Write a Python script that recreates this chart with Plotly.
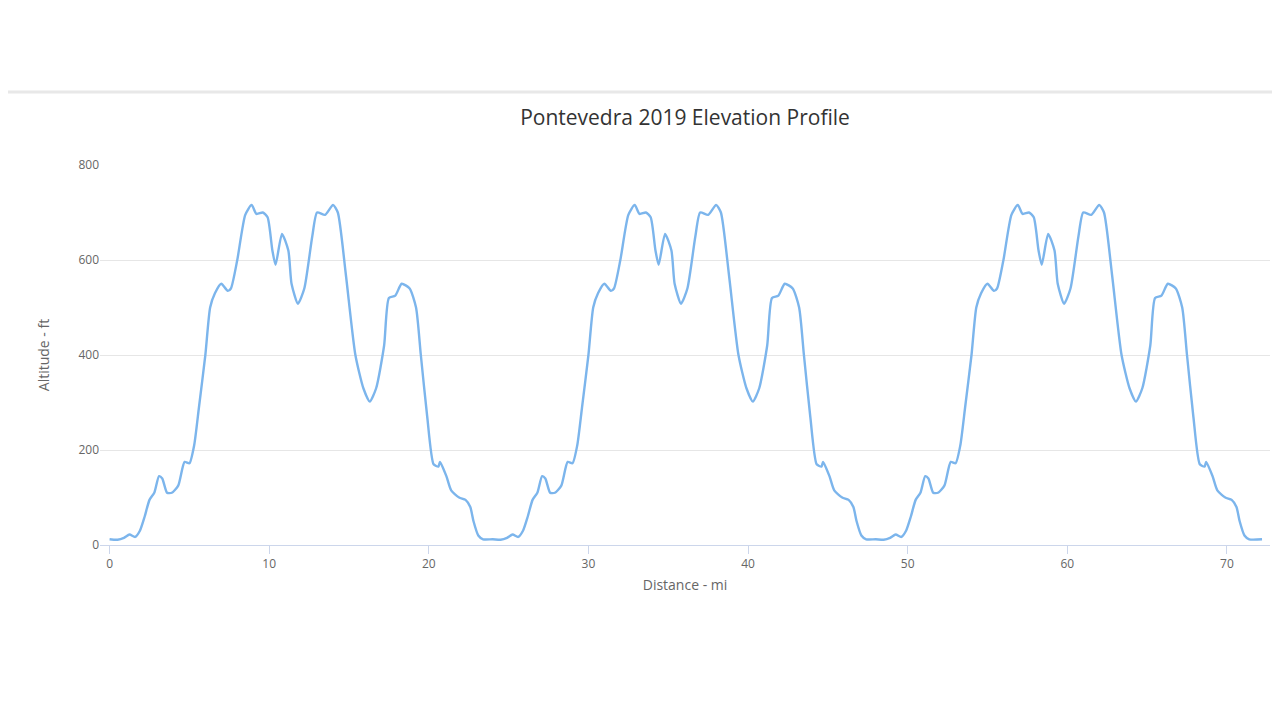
import plotly.graph_objects as go

# one lap of the course (distance mi, altitude ft)
lap_x = [0, 0.5, 0.9, 1.25, 1.6, 1.9, 2.2, 2.5, 2.8, 3.1, 3.3, 3.6, 3.9, 4.3, 4.7, 5.0, 5.3, 5.6, 6.0, 6.3, 6.6,
         7.0, 7.4, 7.6, 8.0, 8.5, 8.9, 9.2, 9.6, 9.9, 10.2, 10.4, 10.8, 11.2, 11.4, 11.8, 12.2, 12.7, 13.0,
         13.5, 14.0, 14.3, 14.8, 15.4, 15.9, 16.3, 16.7, 17.2, 17.5, 17.9, 18.3, 18.8, 19.2, 19.5, 19.9,
         20.3, 20.6, 20.7, 21.1, 21.4, 21.9, 22.3, 22.6, 22.8, 23.1, 23.4]
lap_y = [12, 11, 15, 22, 17, 30, 60, 95, 110, 145, 140, 110, 110, 125, 175, 172, 210, 290, 400, 500, 530,
         550, 535, 540, 600, 695, 716, 697, 700, 690, 620, 590, 655, 620, 550, 508, 540, 650, 700,
         695, 716, 700, 570, 400, 330, 302, 330, 420, 520, 525, 550, 540, 500, 400, 270,
         170, 165, 175, 145, 115, 100, 95, 80, 50, 20, 12]
lap_length = 24.0
laps = 3
end_x, end_y = 72.2, 12

dist = []
alt = []
for k in range(laps):
    dist += [x + k * lap_length for x in lap_x]
    alt += lap_y
dist.append(end_x)
alt.append(end_y)

fig = go.Figure(go.Scatter(x=dist, y=alt, mode="lines",
                           line=dict(color="#7cb5ec", width=2.4, shape="spline", smoothing=0.6),
                           hoverinfo="x+y"))

fig.update_layout(
    width=1280, height=720, paper_bgcolor="white", plot_bgcolor="white",
    margin=dict(l=92, r=18, t=157, b=183),
    font=dict(family="Open Sans, Lato, sans-serif", color="#666"),
    title=dict(text="Pontevedra 2019 Elevation Profile", x=(92 + 1170 / 2) / 1280, xanchor="center",
               y=1 - 110 / 720, yanchor="middle", font=dict(size=21, color="#333")),
    showlegend=False,
    xaxis=dict(range=[-0.6, 72.7], tickvals=[0, 10, 20, 30, 40, 50, 60, 70], showgrid=False, zeroline=False,
               showline=True, linecolor="#ccd6eb", ticks="outside", tickcolor="#ccd6eb", ticklen=8,
               tickfont=dict(size=12, color="#666"),
               title=dict(text="Distance - mi", font=dict(size=14, color="#666"), standoff=8)),
    yaxis=dict(range=[0, 800], tickvals=[0, 200, 400, 600, 800], showgrid=True, gridcolor="#e6e6e6", zeroline=False,
               tickfont=dict(size=12, color="#666"),
               title=dict(text="Altitude - ft", font=dict(size=14, color="#666"), standoff=25)),
    shapes=[
        dict(type="line", xref="paper", yref="paper", x0=-0.1, x1=1.02, y0=1.192, y1=1.192,
             line=dict(color="#e8e8e8", width=3)),
        dict(type="line", xref="paper", yref="paper", x0=-0.0845, x1=-0.0845, y0=-0.17, y1=1.192,
             line=dict(color="#e8e8e8", width=1)),
    ],
)
fig.write_html("out.html")
